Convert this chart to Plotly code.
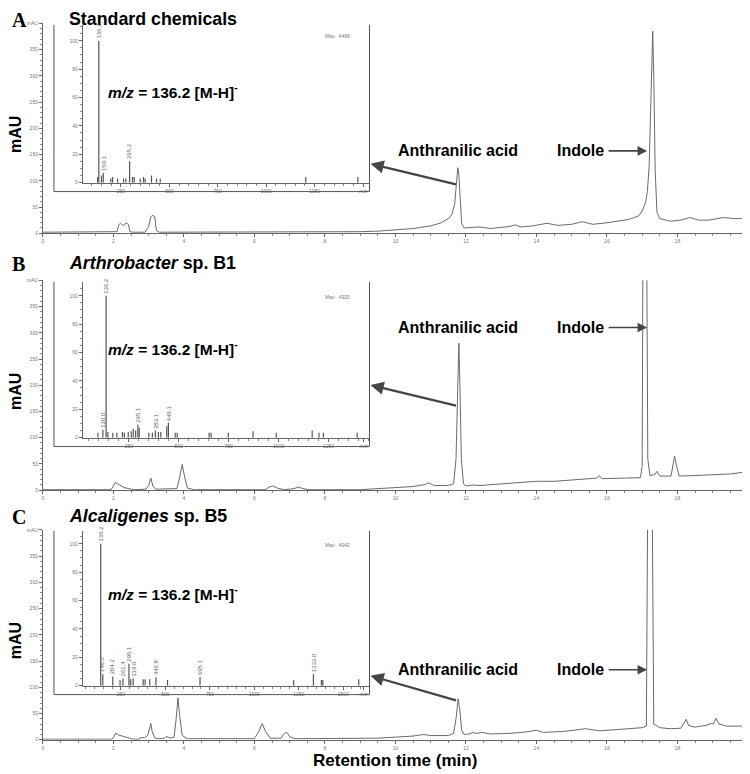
import plotly.graph_objects as go

# the page body has an 8px margin, so the figure is drawn 8px in from the window corner
PAGE_W, PAGE_H, OFF = 750, 774, 8
W, H = PAGE_W - OFF, PAGE_H - OFF

# HPLC chromatograms: (retention time [min], absorbance [mAU])
chrom_a = [(0, 2), (1.0, 2), (2.0, 2), (2.1, 3), (2.15, 16), (2.2, 19), (2.28, 14), (2.36, 20),
           (2.42, 17), (2.47, 3), (2.55, 2), (2.9, 2), (2.96, 9), (3.0, 12), (3.05, 30), (3.1, 34),
           (3.17, 32), (3.22, 5), (3.3, 2), (5.0, 2), (7.0, 2), (8.5, 2), (9.0, 3), (9.5, 4),
           (10.0, 6), (10.5, 9), (11.0, 14), (11.3, 20), (11.5, 28), (11.6, 36), (11.68, 55),
           (11.73, 90), (11.77, 125), (11.8, 112), (11.84, 50), (11.88, 18), (11.95, 10), (12.1, 11),
           (12.4, 12), (12.7, 9), (13.0, 11), (13.25, 13), (13.4, 16), (13.55, 12), (13.9, 14),
           (14.3, 19), (14.6, 15), (15.0, 17), (15.3, 22), (15.6, 17), (16.0, 20), (16.3, 23),
           (16.6, 26), (16.9, 33), (17.0, 42), (17.1, 60), (17.15, 80), (17.2, 130), (17.25, 250),
           (17.28, 350), (17.3, 385), (17.33, 300), (17.37, 120), (17.42, 40), (17.5, 28), (17.8, 23),
           (18.1, 25), (18.35, 30), (18.6, 25), (18.9, 25), (19.3, 30), (19.6, 28), (20.06, 28)]
chrom_b = [(0, 1), (1.9, 1), (1.97, 4), (2.05, 15), (2.15, 11), (2.3, 5), (2.5, 2), (2.6, 1),
           (2.92, 2), (3.0, 9), (3.06, 23), (3.12, 8), (3.2, 2), (3.8, 3), (3.88, 25), (3.95, 49),
           (4.02, 25), (4.1, 4), (4.3, 1), (6.3, 1), (6.42, 6), (6.52, 8), (6.65, 4), (6.85, 1),
           (7.12, 3), (7.25, 6), (7.38, 3), (7.55, 1), (9.0, 1), (9.5, 3), (10.0, 5), (10.5, 7),
           (10.85, 11), (10.95, 14), (11.1, 9), (11.5, 9), (11.65, 12), (11.72, 60), (11.77, 200),
           (11.8, 280), (11.83, 200), (11.87, 60), (11.93, 12), (12.0, 8), (12.2, 10), (12.4, 9),
           (13.0, 12), (13.5, 14), (14.0, 17), (14.5, 17), (15.0, 19), (15.5, 21), (15.72, 23),
           (15.78, 28), (15.86, 22), (16.5, 23), (16.95, 24), (17.0, 45), (17.03, 600), (17.12, 600),
           (17.16, 60), (17.22, 28), (17.36, 30), (17.42, 36), (17.5, 27), (17.82, 27), (17.88, 50),
           (17.92, 65), (17.97, 48), (18.05, 27), (18.5, 28), (19.0, 29), (19.5, 31), (20.06, 36)]
chrom_c = [(0, 1), (1.95, 1), (2.0, 4), (2.06, 12), (2.15, 9), (2.3, 6), (2.45, 4), (2.55, 1),
           (2.7, 1), (2.78, 4), (2.88, 4), (2.97, 8), (3.02, 20), (3.06, 31), (3.1, 15), (3.18, 3),
           (3.4, 2), (3.52, 6), (3.6, 3), (3.72, 5), (3.78, 40), (3.83, 80), (3.88, 45), (3.95, 8),
           (4.1, 2), (6.0, 2), (6.12, 15), (6.22, 31), (6.32, 15), (6.45, 3), (6.75, 3), (6.85, 12),
           (6.92, 14), (7.0, 6), (7.15, 2), (9.0, 2), (9.5, 3), (10.0, 5), (10.5, 7), (10.8, 10),
           (11.0, 8), (11.5, 8), (11.65, 12), (11.72, 40), (11.78, 78), (11.83, 55), (11.88, 18),
           (11.95, 10), (12.1, 11), (12.2, 14), (12.3, 12), (12.45, 14), (12.7, 11), (13.2, 12),
           (13.6, 14), (14.0, 18), (14.2, 14), (14.8, 16), (15.4, 21), (15.8, 17), (16.5, 20),
           (17.0, 23), (17.12, 26), (17.17, 600), (17.27, 600), (17.33, 30), (17.5, 23), (17.8, 21),
           (18.1, 22), (18.18, 32), (18.25, 39), (18.32, 27), (18.5, 24), (18.85, 28), (18.95, 31),
           (19.02, 30), (19.1, 41), (19.18, 30), (19.4, 26), (20.06, 26)]

# MS spectra (inset): m/z and relative abundance (%)
ms_a_mz = [130, 136.2, 150, 159.1, 198, 207, 233, 264, 276, 295.2, 310, 319, 350, 367, 375, 408, 434, 453, 1204, 1473]
ms_a_int = [4, 100, 5, 7, 3, 4, 3, 3, 3, 15, 4, 4, 3, 4, 3, 5, 3, 3, 4, 4]
ms_a_labels = ["136.2", "159.1", "295.2"]

ms_b_mz = [95, 120.0, 136.2, 145, 170, 190, 218, 228, 247, 262, 272, 284, 295.1, 302, 350, 368,
           383.1, 398, 410, 440, 448.1, 482, 492, 652, 662, 748, 872, 988, 1168, 1202, 1224, 1393]
ms_b_int = [3.5, 5.5, 100, 4, 3.5, 3.5, 4, 3.5, 4, 4.5, 6, 5, 9, 7, 3.5, 3.5,
            5, 4, 4, 8, 10.5, 3.5, 3.5, 3.5, 3.5, 3.5, 4.5, 3.5, 5, 3.5, 3.5, 3.5]
ms_b_labels = ["120.0", "136.2", "295.1", "383.1", "448.1"]

ms_c_mz = [136.2, 148.0, 204.2, 245, 261.4, 295.1, 305, 319.0, 375, 386, 412, 446.8, 512, 695.1,
           1222, 1333.0, 1378, 1386, 1588]
ms_c_int = [100, 8, 6.5, 4, 5, 15.5, 4.5, 5, 4.5, 4.5, 4.5, 6, 4, 6, 4, 8, 4, 4, 4.5]
ms_c_labels = ["136.2", "148.0", "204.2", "261.4", "295.1", "319.0", "446.8", "695.1", "1333.0"]

max_counts = ["4499", "4920", "4042"]
panel_letters = ["A", "B", "C"]
panel_titles = ["<b>Standard chemicals</b>", "<b><i>Arthrobacter</i> sp. B1</b>", "<b><i>Alcaligenes</i> sp. B5</b>"]

chrom_ticks = list(range(0, 21, 2))
chrom_ticktext = [str(t) for t in chrom_ticks[:-1]] + ["min"]
mau_ticks = list(range(0, 401, 50))
mau_ticktext = [str(t) for t in mau_ticks[:-1]] + ["mAU"]

# layout in window pixels (y measured from top)
layout_px = [
    dict(title_y=16, base=232, itop=22, izero=181, mz_range=[54, 1528], mz_lab=1500,
         mz_ticks=[250, 500, 750, 1000, 1250], mztext_y=89, max_y=33, label_y=149,
         head=(370, 162), tail=(457, 183)),
    dict(title_y=262, base=491, itop=281, izero=438, mz_range=[20, 1450], mz_lab=1425,
         mz_ticks=[250, 500, 750, 1000, 1250], mztext_y=348, max_y=296, label_y=327,
         head=(370, 385), tail=(457, 406)),
    dict(title_y=517, base=742.5, itop=532, izero=688, mz_range=[36, 1643], mz_lab=1615,
         mz_ticks=[250, 500, 750, 1000, 1250, 1500], mztext_y=595, max_y=546, label_y=672,
         head=(370, 678), tail=(457, 703)),
]


def px(v):
    return (v - OFF) / W


def py(v):
    return 1 - (v - OFF) / H


chroms = [chrom_a, chrom_b, chrom_c]
spectra = [(ms_a_mz, ms_a_int, ms_a_labels), (ms_b_mz, ms_b_int, ms_b_labels), (ms_c_mz, ms_c_int, ms_c_labels)]

fig = go.Figure()
annotations = []
shapes = []
tick_font = dict(size=5, color="#777", family="Arial, Liberation Sans")
line_col = "#666"
sans = "Arial, Liberation Sans"

for i in range(3):
    L = layout_px[i]
    cx, cy = "x%d" % (i + 1), "y%d" % (i + 1)
    mx, my = "x%d" % (i + 4), "y%d" % (i + 4)

    t = [p[0] for p in chroms[i]]
    v = [p[1] for p in chroms[i]]
    fig.add_trace(go.Scatter(x=t, y=v, mode="lines", line=dict(color="#6a6a6a", width=1),
                             xaxis=cx, yaxis=cy, hoverinfo="skip"))

    top_px = L["base"] - 400 * 0.529
    fig.layout["xaxis%d" % (i + 1)] = dict(
        domain=[px(42), 1.0], range=[0, 20.06], anchor=cy, showgrid=False, zeroline=False,
        showline=True, linecolor=line_col, linewidth=1, ticks="outside", ticklen=3,
        tickcolor=line_col, tickvals=chrom_ticks, ticktext=chrom_ticktext, tickfont=tick_font,
        minor=dict(ticks="outside", ticklen=2, dtick=0.5, tickcolor="#888"), fixedrange=True)
    fig.layout["yaxis%d" % (i + 1)] = dict(
        domain=[py(L["base"]), py(top_px)], range=[0, 400], anchor=cx, showgrid=False,
        zeroline=False, showline=True, linecolor=line_col, linewidth=1, ticks="outside",
        ticklen=3, tickcolor=line_col, tickvals=mau_ticks, ticktext=mau_ticktext,
        tickfont=tick_font, minor=dict(ticks="outside", ticklen=2, dtick=10, tickcolor="#888"))

    # mass spectrum inset
    mz, inten, labs = spectra[i]
    sx, sy = [], []
    for m, a in zip(mz, inten):
        sx += [m, m, None]
        sy += [0, a, None]
    fig.add_trace(go.Scatter(x=sx, y=sy, mode="lines", line=dict(color="#555", width=1.2),
                             xaxis=mx, yaxis=my, hoverinfo="skip"))
    ytop = (L["izero"] - L["itop"]) / 1.43
    fig.layout["xaxis%d" % (i + 4)] = dict(
        domain=[px(82), px(368)], range=L["mz_range"], anchor=my, showgrid=False, zeroline=False,
        showline=True, linecolor=line_col, linewidth=1, ticks="outside", ticklen=3,
        tickcolor=line_col, tickvals=L["mz_ticks"] + [L["mz_lab"]],
        ticktext=[str(k) for k in L["mz_ticks"]] + ["<i>m/z</i>"], tickfont=tick_font,
        minor=dict(ticks="outside", ticklen=2, dtick=50, tickcolor="#888"))
    fig.layout["yaxis%d" % (i + 4)] = dict(
        domain=[py(L["izero"]), py(L["itop"])], range=[0, ytop], anchor=mx, showgrid=False,
        zeroline=False, showline=True, linecolor=line_col, linewidth=1, ticks="outside",
        ticklen=3, tickcolor=line_col, tickvals=[0, 20, 40, 60, 80, 100], tickfont=tick_font,
        minor=dict(ticks="outside", ticklen=2, dtick=5, tickcolor="#888"))

    for lab in labs:
        m = float(lab)
        a = inten[mz.index(m)]
        annotations.append(dict(text=lab, x=m, y=a, xref=mx, yref=my, textangle=-90,
                                xanchor="center", yanchor="bottom", showarrow=False,
                                font=dict(size=6, color="#666", family=sans)))

    # inset frame (open top)
    fb = L["izero"] + 9
    for x0, y0, x1, y1 in [(53, L["itop"], 53, fb), (369, L["itop"], 369, fb), (53, fb, 369, fb)]:
        shapes.append(dict(type="line", xref="paper", yref="paper", x0=px(x0), y0=py(y0),
                           x1=px(x1), y1=py(y1), line=dict(color="#555", width=1)))

    annotations += [
        dict(text="<b>%s</b>" % panel_letters[i], x=px(9), y=py(L["title_y"] + 1), xref="paper",
             yref="paper", xanchor="left", yanchor="middle", showarrow=False,
             font=dict(size=20, color="black", family="Liberation Serif, Times New Roman")),
        dict(text=panel_titles[i], x=px(66), y=py(L["title_y"]), xref="paper", yref="paper",
             xanchor="left", yanchor="middle", showarrow=False,
             font=dict(size=17.8, color="black", family=sans)),
        dict(text="<b><i>m/z</i> = 136.2 [M-H]<sup>-</sup></b>", x=px(105), y=py(L["mztext_y"]),
             xref="paper", yref="paper", xanchor="left", yanchor="middle", showarrow=False,
             font=dict(size=15.5, color="black", family=sans)),
        dict(text="Max:  " + max_counts[i], x=px(337), y=py(L["max_y"]), xref="paper",
             yref="paper", xanchor="center", yanchor="middle", showarrow=False,
             font=dict(size=5, color="#777", family=sans)),
        dict(text="<b>mAU</b>", x=px(14), y=py((L["base"] + L["itop"]) / 2 + 5), xref="paper",
             yref="paper", textangle=-90, xanchor="center", yanchor="middle", showarrow=False,
             font=dict(size=16, color="black", family=sans)),
        dict(text="<b>Anthranilic acid</b>", x=px(396), y=py(L["label_y"]), xref="paper",
             yref="paper", xanchor="left", yanchor="middle", showarrow=False,
             font=dict(size=16, color="black", family=sans)),
        dict(text="<b>Indole</b>", x=px(555), y=py(L["label_y"]), xref="paper", yref="paper",
             xanchor="left", yanchor="middle", showarrow=False,
             font=dict(size=16, color="black", family=sans)),
        dict(text="", x=px(L["head"][0]), y=py(L["head"][1]), xref="paper", yref="paper",
             ax=L["tail"][0] - L["head"][0], ay=L["tail"][1] - L["head"][1], showarrow=True,
             arrowhead=2, arrowsize=1.2, arrowwidth=2.2, arrowcolor="#454545"),
        dict(text="", x=px(647), y=py(L["label_y"]), xref="paper", yref="paper",
             ax=-40, ay=0, showarrow=True, arrowhead=2, arrowsize=1.2, arrowwidth=1.6,
             arrowcolor="#454545"),
    ]

annotations.append(dict(text="<b>Retention time (min)</b>", x=px(395), y=py(763), xref="paper",
                        yref="paper", xanchor="center", yanchor="middle", showarrow=False,
                        font=dict(size=17, color="black", family=sans)))

fig.update_layout(width=W, height=H, margin=dict(l=0, r=0, t=0, b=0), showlegend=False,
                  plot_bgcolor="white", paper_bgcolor="white", annotations=annotations,
                  shapes=shapes)

fig.write_html("out.html")
